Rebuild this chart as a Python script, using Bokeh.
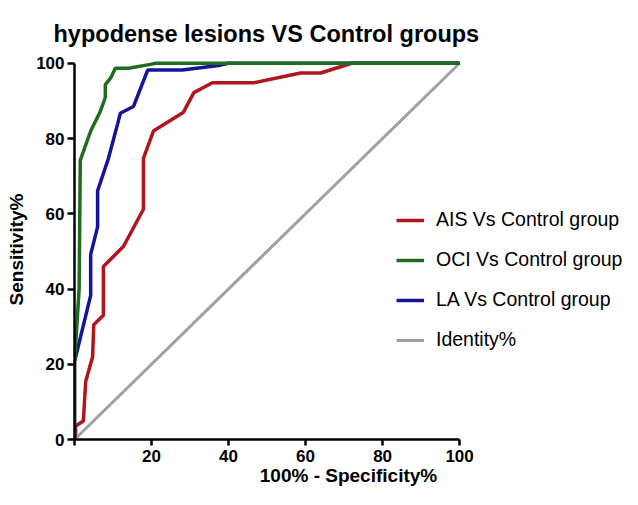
from bokeh.plotting import figure
from bokeh.models import Range1d, Legend, LegendItem, FixedTicker
from bokeh.embed import file_html
from bokeh.resources import INLINE

# ROC data (100% - Specificity%, Sensitivity%)
ais_x = [0, 0.3, 0.3, 2.3, 2.9, 4.7, 5.0, 7.5, 7.5, 12.7, 17.9, 17.9, 20.5, 28.3, 31.0, 35.8, 46.5, 58.7, 63.9, 72.0, 100]
ais_y = [0, 1.8, 3.6, 4.9, 15.4, 22.0, 30.5, 33.0, 46.0, 51.3, 61.2, 74.7, 82.0, 87.0, 92.2, 94.8, 94.8, 97.4, 97.4, 100, 100]

oci_x = [0, 0, 1.2, 1.5, 4.2, 6.7, 8.0, 8.0, 9.4, 10.6, 14.0, 19.7, 21.0, 100]
oci_y = [0, 20, 40, 74.2, 82.0, 87.2, 90.9, 94.3, 96.1, 98.7, 98.7, 99.7, 100, 100]

la_x = [0, 0, 0.8, 4.2, 4.2, 6.0, 6.0, 8.8, 11.2, 11.9, 15.3, 19.0, 28.0, 37.9, 40.0, 100]
la_y = [0, 20.8, 24.0, 38.3, 49.2, 56.5, 66.1, 74.7, 83.9, 86.7, 88.5, 98.2, 98.2, 99.5, 100, 100]

ident_x = [0, 100]
ident_y = [0, 100]

x_ticks = [0, 20, 40, 60, 80, 100]
y_ticks = [0, 20, 40, 60, 80, 100]
series_names = ["AIS Vs Control group", "OCI Vs Control group", "LA Vs Control group", "Identity%"]
series_colors = ["#B0141C", "#1F6B1F", "#14149A", "#A0A0A0"]

FONT = "Liberation Sans"

p = figure(width=622, height=489, output_backend="svg", toolbar_location=None,
           x_range=Range1d(0, 142.3), y_range=Range1d(0, 101),
           min_border_left=74, min_border_right=0, min_border_top=59, min_border_bottom=50)
p.grid.visible = False
p.outline_line_color = None
p.background_fill_color = "white"
p.border_fill_color = "white"

p.title.text = "hypodense lesions VS Control groups"
p.title.text_font = FONT
p.title.text_font_size = "23.5px"
p.title.text_font_style = "bold"
p.title.text_color = "black"
p.title.align = "left"
p.title.offset = -21
p.title.standoff = 25

for ax in (p.xaxis[0], p.yaxis[0]):
    ax.bounds = (0, 100)
    ax.axis_line_color = "black"
    ax.axis_line_width = 2.5
    ax.major_tick_line_color = "black"
    ax.major_tick_line_width = 2.5
    ax.major_tick_out = 7
    ax.major_tick_in = 0
    ax.minor_tick_line_color = None
    ax.major_label_text_font = FONT
    ax.major_label_text_font_style = "bold"
    ax.major_label_text_font_size = "17px"
    ax.major_label_text_color = "black"
    ax.axis_label_text_font = FONT
    ax.axis_label_text_font_style = "bold"
    ax.axis_label_text_font_size = "19px"
    ax.axis_label_text_color = "black"

p.xaxis.ticker = FixedTicker(ticks=x_ticks)
p.yaxis.ticker = FixedTicker(ticks=y_ticks)
p.xaxis.major_label_overrides = {0: ""}
p.xaxis.major_tick_out = 6
p.xaxis.major_label_standoff = 4
p.yaxis.major_label_standoff = 3
p.xaxis.axis_label = "100% - Specificity%"
p.yaxis.axis_label = "Sensitivity%"
p.xaxis.axis_label_standoff = 0
p.yaxis.axis_label_standoff = 6

r_id = p.line(ident_x, ident_y, line_color=series_colors[3], line_width=3)
r_ais = p.line(ais_x, ais_y, line_color=series_colors[0], line_width=3.5)
r_la = p.line(la_x, la_y, line_color=series_colors[2], line_width=3.5)
r_oci = p.line(oci_x, oci_y, line_color=series_colors[1], line_width=3.5)

legend = Legend(items=[
    LegendItem(label=series_names[0], renderers=[r_ais]),
    LegendItem(label=series_names[1], renderers=[r_oci]),
    LegendItem(label=series_names[2], renderers=[r_la]),
    LegendItem(label=series_names[3], renderers=[r_id]),
], location=(322, 88))
legend.border_line_color = None
legend.background_fill_alpha = 0
legend.padding = 0
legend.margin = 0
legend.spacing = 17
legend.glyph_width = 28
legend.glyph_height = 20
legend.label_height = 20
legend.label_standoff = 12
legend.label_text_font = FONT
legend.label_text_font_size = "19.5px"
legend.label_text_color = "black"
p.add_layout(legend, "center")

open("out.html", "w").write(file_html(p, INLINE))
